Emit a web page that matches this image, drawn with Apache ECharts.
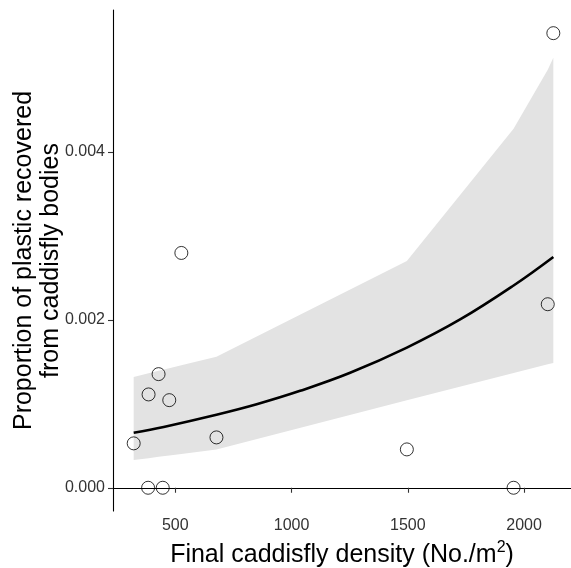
<!DOCTYPE html>
<html>
<head>
<meta charset="utf-8">
<script src="https://cdn.jsdelivr.net/npm/echarts@6/dist/echarts.min.js"></script>
<style>
  html, body { margin: 0; padding: 0; background: #fff; }
  #chart { width: 571px; height: 568px; }
</style>
</head>
<body>
<div id="chart"></div>
<script>
// observed points
var densityX = [321, 383, 385, 428, 446, 474, 526, 677, 1496, 1955, 2102, 2126];
var plasticY = [0.000529, 0, 0.001112, 0.001354, 0, 0.001044, 0.002798, 0.000600, 0.000457, 0, 0.002187, 0.005417];

// confidence band (kinks at the observed densities)
var bandX = [321, 385, 428, 446, 474, 526, 677, 1496, 1955, 2102, 2126];
var bandUpper = [0.001321, 0.001364, 0.001393, 0.001405, 0.001424, 0.001459, 0.00156, 0.002702, 0.004279, 0.00498, 0.005124];
var bandLower = [0.00033, 0.000353, 0.000368, 0.000375, 0.000385, 0.000403, 0.000457, 0.001044, 0.001368, 0.001472, 0.001488];

// fitted curve
var fitX = [321, 450, 677, 850, 1037, 1252, 1496, 1725, 1955, 2126];
var fitY = [0.000655, 0.000725, 0.00087, 0.000995, 0.001155, 0.00137, 0.00167, 0.002005, 0.00241, 0.00275];

var xTicks = [500, 1000, 1500, 2000];
var yTicks = [0, 0.002, 0.004];

var FONT = "'Liberation Sans', Arial, sans-serif";

var chart = echarts.init(document.getElementById('chart'));

function pairs(xs, ys) {
  var out = [];
  for (var i = 0; i < xs.length; i++) out.push([xs[i], ys[i]]);
  return out;
}

var option = {
  animation: false,
  backgroundColor: '#fff',
  grid: { left: 113, top: 10, right: 0, bottom: 57, containLabel: false, outerBoundsMode: 'none' },
  xAxis: {
    type: 'value',
    min: 232,
    max: 2202,
    splitLine: { show: false },
    axisLine: { lineStyle: { color: '#000', width: 1.1 } },
    axisTick: { customValues: xTicks, length: 5, lineStyle: { color: '#333', width: 1.1 } },
    axisLabel: {
      customValues: xTicks, margin: 7, fontSize: 16, color: '#333', fontFamily: FONT,
      formatter: function (v) { return String(v); }
    },
    name: '{a|Final caddisfly density (No./m}{s|2}{a|)}',
    nameLocation: 'middle',
    nameGap: 29,
    nameMoveOverlap: false,
    nameTextStyle: {
      rich: {
        a: { fontSize: 25, color: '#000', fontFamily: FONT },
        s: { fontSize: 16, color: '#000', fontFamily: FONT, verticalAlign: 'top', padding: [0, 0, 14, 0] }
      }
    }
  },
  yAxis: {
    type: 'value',
    min: -0.000277,
    max: 0.005693,
    splitLine: { show: false },
    axisLine: { lineStyle: { color: '#000', width: 1.1 } },
    axisTick: { customValues: yTicks, length: 5, lineStyle: { color: '#333', width: 1.1 } },
    axisLabel: {
      customValues: yTicks, margin: 8, fontSize: 16, color: '#333', fontFamily: FONT,
      formatter: function (v) { return v.toFixed(3); }
    },
    name: 'Proportion of plastic recovered\nfrom caddisfly bodies',
    nameLocation: 'middle',
    nameGap: 48,
    nameMoveOverlap: false,
    nameTextStyle: { fontSize: 25, lineHeight: 27, color: '#000', fontFamily: FONT, align: 'center' }
  },
  series: [
    {
      type: 'custom',
      z: 1,
      silent: true,
      data: [0],
      renderItem: function (params, api) {
        var pts = [];
        for (var i = 0; i < bandX.length; i++) pts.push(api.coord([bandX[i], bandUpper[i]]));
        for (var j = bandX.length - 1; j >= 0; j--) pts.push(api.coord([bandX[j], bandLower[j]]));
        return { type: 'polygon', shape: { points: pts }, style: { fill: '#e3e3e3' } };
      }
    },
    {
      type: 'line',
      z: 2,
      data: pairs(fitX, fitY),
      smooth: 0.4,
      showSymbol: false,
      lineStyle: { color: '#000', width: 2.6 }
    },
    {
      type: 'scatter',
      z: 3,
      data: pairs(densityX, plasticY),
      symbol: 'circle',
      symbolSize: 13,
      itemStyle: { color: 'rgba(0,0,0,0)', borderColor: '#000', borderWidth: 1 }
    }
  ]
};

chart.setOption(option);
</script>
</body>
</html>
